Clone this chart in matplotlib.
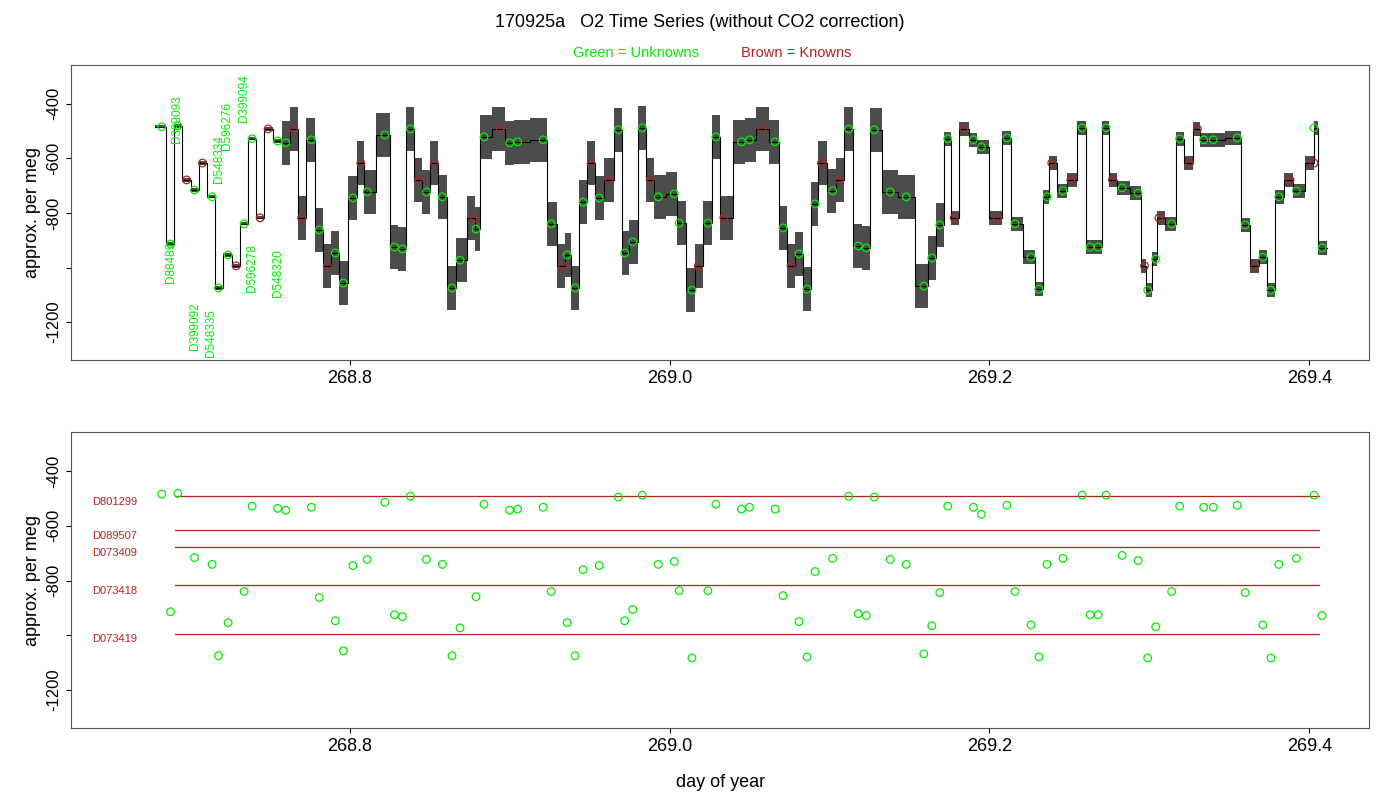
import matplotlib
matplotlib.use("Agg")
import matplotlib.pyplot as plt
import numpy as np

plt.rcParams["font.family"] = "Liberation Sans"

unk_day = [268.6825,268.6925,268.688,268.703,268.714,268.718,268.724,268.734,268.739,268.755,268.760,268.776,268.781,268.791,268.796,268.802,268.811,268.822,268.828,268.833,268.838,268.848,268.858,268.864,268.869,268.879,268.884,268.900,268.905,268.921,268.926,268.936,268.941,268.946,268.956,268.968,268.972,268.977,268.983,268.993,269.003,269.006,269.014,269.024,269.029,269.045,269.050,269.066,269.071,269.081,269.086,269.091,269.102,269.112,269.118,269.123,269.128,269.138,269.148,269.159,269.164,269.169,269.174,269.190,269.195,269.211,269.216,269.226,269.231,269.236,269.246,269.258,269.263,269.268,269.273,269.283,269.293,269.299,269.304,269.314,269.319,269.334,269.340,269.355,269.360,269.371,269.376,269.381,269.392,269.403,269.408]
unk_val = [-484,-481,-914,-716,-741,-1075,-954,-840,-528,-536,-543,-532,-862,-947,-1057,-745,-723,-514,-925,-932,-492,-723,-741,-1075,-973,-859,-521,-543,-539,-532,-840,-954,-1075,-760,-745,-495,-947,-906,-488,-741,-730,-837,-1083,-837,-521,-539,-532,-539,-855,-950,-1079,-767,-719,-492,-921,-928,-495,-723,-741,-1068,-965,-844,-528,-532,-558,-525,-840,-962,-1079,-741,-719,-488,-925,-925,-488,-708,-727,-1083,-969,-840,-528,-532,-532,-525,-844,-962,-1083,-741,-719,-488,-928]

known_day = [268.698,268.708,268.729,268.744,268.749,268.765,268.770,268.786,268.807,268.843,268.853,268.878,268.894,268.933,268.951,268.962,268.988,269.018,269.034,269.058,269.076,269.095,269.106,269.178,269.184,269.205,269.239,269.251,269.277,269.297,269.306,269.325,269.330,269.366,269.388,269.403]
known_val = [-679,-617,-994,-818,-492,-492,-818,-994,-617,-679,-617,-818,-492,-994,-617,-679,-679,-994,-818,-492,-994,-617,-679,-818,-492,-818,-617,-679,-679,-994,-818,-617,-492,-994,-679,-617]

std_names = ["D801299","D089507","D073409","D073418","D073419"]
std_vals = [-492,-617,-679,-818,-994]

noise_break = [268.0,268.755,269.17,270.0]
noise_amp = [6,80,25]

lab_names = ["D88489","D399093","D399092","D548335","D548334","D596276","D399094","D596278","D548320"]
lab_day = [268.688,268.692,268.703,268.713,268.718,268.723,268.734,268.739,268.755]
lab_val = [-1057,-543,-1303,-1328,-690,-569,-466,-1090,-1108]

GREEN = "#00ee00"
BROWN = "#b22222"

fig = plt.figure(figsize=(14, 8), dpi=100)
ax1 = fig.add_axes([0.051, 0.55, 0.927, 0.369])
ax2 = fig.add_axes([0.051, 0.09, 0.927, 0.37])

d = np.array(unk_day + known_day)
v = np.array(unk_val + known_val, dtype=float)
o = np.argsort(d)
d, v = d[o], v[o]
edges = np.concatenate([[d[0] - 0.004], (d[:-1] + d[1:]) / 2, [d[-1] + 0.003]])
amp = np.array([noise_amp[np.searchsorted(noise_break, x) - 1] for x in d])
for i in range(len(d)):
    ax1.fill_between([edges[i], edges[i+1]], v[i]-amp[i], v[i]+amp[i], color="black", lw=0, alpha=0.7)
ax1.step(edges, np.append(v, v[-1]), where="post", color="black", lw=0.8)
ax1.scatter(unk_day, unk_val, s=30, facecolors="none", edgecolors=GREEN, lw=0.9, zorder=3)
ax1.scatter(known_day, known_val, s=30, facecolors="none", edgecolors=BROWN, lw=0.9, zorder=3)
for n, x, y in zip(lab_names, lab_day, lab_val):
    ax1.text(x, y, n, rotation=90, color=GREEN, fontsize=8.5, ha="center", va="bottom")

for n, y in zip(std_names, std_vals):
    ax2.plot([268.691, 269.406], [y, y], color=BROWN, lw=0.9)
    ax2.text(268.639, y - 20, n, color=BROWN, fontsize=8, ha="left", va="center")
ax2.scatter(unk_day, unk_val, s=30, facecolors="none", edgecolors=GREEN, lw=0.9, zorder=3)

for ax in (ax1, ax2):
    ax.set_xlim(268.626, 269.4375)
    ax.set_ylim(-1339, -257)
    ax.set_yticks([-400, -600, -800, -1000, -1200])
    ax.set_yticklabels(["-400", "-600", "-800", "", "-1200"], rotation=90, va="center", fontsize=12)
    ax.set_xticks([268.8, 269.0, 269.2, 269.4])
    ax.set_xticklabels(["268.8", "269.0", "269.2", "269.4"], fontsize=13)
    ax.set_ylabel("approx. per meg", fontsize=13)
    for s in ax.spines.values():
        s.set_color("#555555")
ax2.set_xlabel("day of year", fontsize=13, labelpad=14)

fig.text(0.5, 0.972, "170925a   O2 Time Series (without CO2 correction)", ha="center", va="center", fontsize=13)
fig.text(0.454, 0.934, "Green = Unknowns", color=GREEN, ha="center", va="center", fontsize=10.5)
fig.text(0.569, 0.934, "Brown = Knowns", color=BROWN, ha="center", va="center", fontsize=10.5)

fig.savefig("out.png", dpi=100)
